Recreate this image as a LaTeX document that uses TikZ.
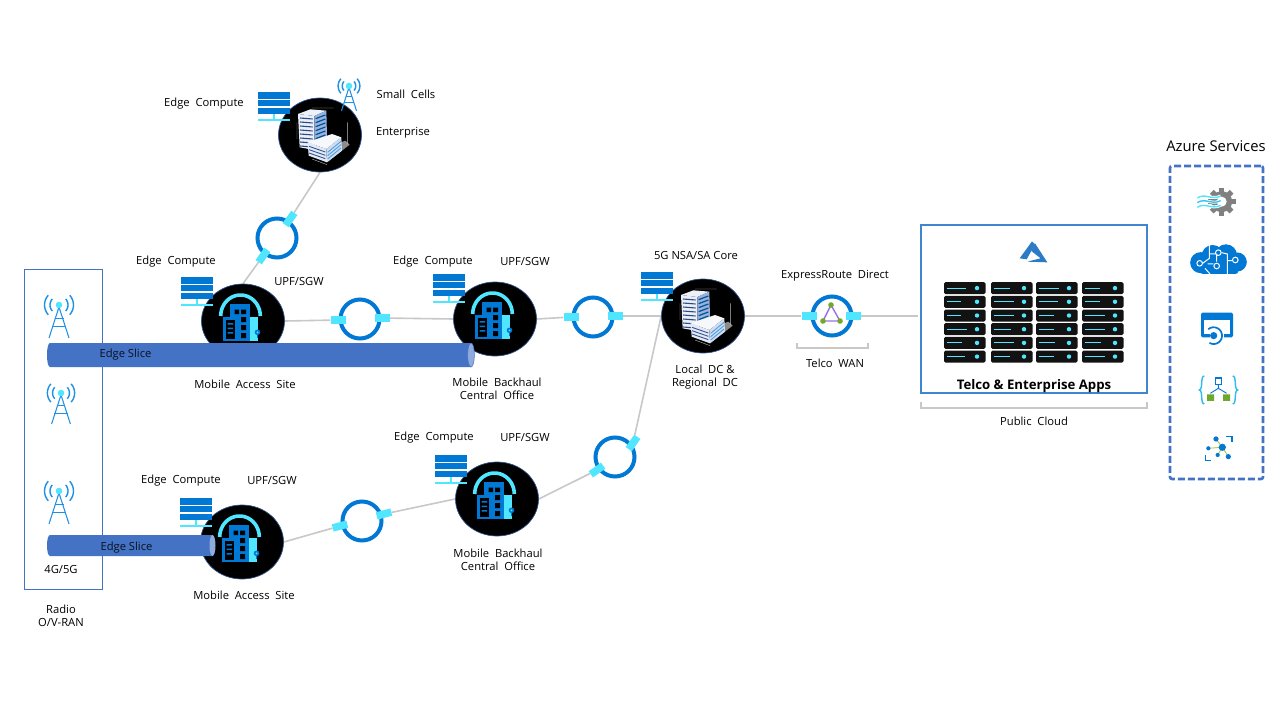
\documentclass[tikz,border=0pt]{standalone}
\usepackage{fontspec}
\setmainfont{Open Sans}
\usetikzlibrary{shapes.geometric,backgrounds}
\definecolor{cy}{HTML}{50E6FF}
\definecolor{az}{HTML}{0078D4}
\definecolor{sl}{HTML}{4472C4}
\definecolor{gl}{HTML}{C8C8C8}
\definecolor{bx}{HTML}{3F86CE}
\definecolor{tw}{HTML}{1E90E6}
\definecolor{pu}{HTML}{9B6FE8}
\definecolor{gr}{HTML}{6FA82C}
\definecolor{logo}{HTML}{2B7CC4}
\tikzset{
  lbl/.style={font=\fontsize{11.2}{13}\selectfont,text=black,inner sep=0pt,align=center,yshift=-1.2pt},
  site/.style={ellipse,fill=black,draw=sl!70!black,line width=.7pt,minimum width=83pt,minimum height=74pt,inner sep=0pt},
  ringn/.style={circle,draw=az,line width=4pt,fill=white,minimum size=39pt,inner sep=0pt},
  tabn/.style={rectangle,fill=cy,minimum width=15pt,minimum height=7.5pt,inner sep=0pt},
  conn/.style={draw=gl,line width=1.6pt},
  brk/.style={draw=gl,line width=1.6pt}
}
\newcommand\ringat[9]{%
  \node[ringn] (#1) at (#2,#3) {};
  \node[tabn,rotate=#6] (#1a) at (#4,#5) {};
  \node[tabn,rotate=#9] (#1b) at (#7,#8) {};
}
\newcommand\serverstack[2]{%
  \begin{scope}[shift={(#1,#2)}]
    \fill[az] (0,0) rectangle (32,6.6);
    \fill[az] (0,8) rectangle (32,14.2);
    \fill[az] (0,15.8) rectangle (32,22);
    \fill[cy] (15.4,22) rectangle (16.6,28);
    \fill[cy] (0,27.4) rectangle (32,29);
  \end{scope}}
\newcommand\towericon[3]{%
  \begin{scope}[shift={(#1,#2)},x=#3pt,y=-#3pt]
    \draw[tw,line width=1.05pt] (-10,33) -- (0,2) -- (10,33);
    \draw[tw,line width=1.05pt] (-4.5,13.5) -- (4.5,13.5) (-7,21.5) -- (7,21.5);
    \foreach \r/\w in {9/1.4,14.5/1.4}{
      \draw[tw,line width=\w pt] plot[domain=-42:42,samples=9] ({\r*cos(\x)},{\r*sin(\x)});
      \draw[tw,line width=\w pt] plot[domain=138:222,samples=9] ({\r*cos(\x)},{\r*sin(\x)});
    }
    \fill[cy] (0,0) circle[radius=3.3pt];
  \end{scope}}
\newcommand\officeicon[2]{%
  \begin{scope}[shift={(#1,#2)}]
    \draw[cy,line width=3.6pt] plot[domain=180:360,samples=24] ({-2.5+19.8*cos(\x)},{-5+21*sin(\x)});
    \fill[az] (-13,-17) rectangle (7,20);
    \fill[az] (-20,-4) rectangle (-1,20);
    \fill[black] (-17.5,-1) rectangle (-8,18);
    \fill[az] (-15.5,2) rectangle (-10,3.6) (-15.5,6.5) rectangle (-10,8.1) (-15.5,11) rectangle (-10,12.6);
    \fill[black] (-8.5,-11.5) rectangle (-4,-7) (-2,-11.5) rectangle (3,-7) (-2,-4) rectangle (3,1) (-2,4) rectangle (3,9) (-2,12) rectangle (3,17);
    \fill[cy] (7,-4) rectangle (15,20);
    \fill[az] (14.5,11.3) circle[radius=2.8pt];
    \fill[cy] (14.5,11.3) circle[radius=1pt];
    \fill[az] (13.8,13) rectangle (15.2,17);
  \end{scope}}
% large office block, drawn in 3x units round its circle centre
\newcommand\bigoffice[2]{%
  \begin{scope}[shift={(#1-43,#2-41)},x=.3333pt,y=-.3333pt]
    \fill[white!55!black] (150,205) -- (195,170) -- (218,152) -- (205,140) -- (180,150) -- cycle;
    \fill[white!90!sl] (63,60) -- (100,46) -- (148,50) -- (112,66) -- cycle;
    \fill[white!88!sl] (63,60) -- (112,66) -- (112,168) -- (68,160) -- cycle;
    \fill[sl!55!white] (112,66) -- (148,50) -- (150,128) -- (112,150) -- cycle;
    \foreach \y in {72,84,...,156}{
      \draw[sl!65!black,line width=1.1pt] (69,\y) -- (107,\y+3);
    }
    \foreach \y in {74,86,...,134}{
      \draw[az!70!black,line width=1.2pt] (116,\y) -- (145,\y-11);
    }
    \fill[white!95!sl] (92,145) -- (165,120) -- (193,130) -- (148,165) -- cycle;
    \fill[white!85!sl] (92,145) -- (148,165) -- (150,205) -- (95,185) -- cycle;
    \fill[white!75!sl] (148,165) -- (193,130) -- (195,170) -- (150,205) -- cycle;
    \foreach \y in {157,167,177}{\draw[sl!75!black,line width=.9pt] (96,\y) -- (145,\y+17);}
    \foreach \y in {175,185,195}{\draw[az!70!white,line width=.9pt] (152,\y) -- (192,\y-33);}
    \draw[white!75!black,line width=.4pt] (212,85) -- (212,150) (60,85) -- (60,135) (105,195) -- (150,212) (105,42) -- (170,42);
  \end{scope}}
\begin{document}
\begin{tikzpicture}[x=1pt,y=-1pt]
\useasboundingbox (0,0) rectangle (1280,720);
\node[site] (ent) at (320,135) {};
\node[site] (siteA) at (243,321) {};
\node[site] (bhA) at (495,319) {};
\node[site] (core) at (703,316) {};
\node[site] (bhB) at (497,499) {};
\node[site] (siteB) at (242,542) {};
\officeicon{243}{321}
\officeicon{495}{319}
\officeicon{497}{499}
\officeicon{242}{542}
\bigoffice{320}{135}
\bigoffice{703}{316}
\serverstack{258}{92}
\serverstack{181}{277}
\serverstack{433}{274}
\serverstack{641}{272}
\serverstack{435}{455}
\serverstack{180}{498}
\ringat{rA}{277}{238}{263}{256}{55}{290}{219}{55}
\ringat{rB}{360}{319}{338}{320}{0}{382}{318}{0}
\ringat{rC}{593}{317}{571}{317}{0}{615}{316}{0}
\ringat{rD}{362}{521}{340}{526}{15}{384}{514}{15}
\ringat{rE}{615}{457}{597}{470}{35}{633}{443}{55}
\ringat{rF}{832}{316}{809}{316}{0}{853}{316}{0}
\draw[pu,line width=1.4pt] (831,305) -- (823,321) -- (840,321) -- cycle;
\fill[gr] (831,305) circle[radius=2.8pt] (823,321) circle[radius=2.8pt] (840,321) circle[radius=2.8pt];
\node[draw=bx,fill=white,line width=2pt,minimum width=226pt,minimum height=168pt,inner sep=0pt] (cloud) at (1033.5,308.5) {};
\coordinate (cloudin) at (918,316);
\node[lbl,font=\fontsize{13.2}{15}\selectfont\bfseries] (apps) at (1034,384.5) {Telco \& Enterprise Apps};
\begin{scope}[shift={(910,215)},x=.3333pt,y=-.3333pt]
  \fill[logo] (366,79) -- (329,130) -- (350,133) -- (375,88) -- cycle;
  \fill[logo] (375,85) -- (412,142) -- (352,140) -- (392,130) -- (364,108) -- cycle;
\end{scope}
\foreach \cx/\lens [count=\c] in {944/{19,14,14,20,15,18},991/{16,20,20,17,20,16},1036/{20,19,15,15,16,15},1082/{15,15,20,20,16,20}}{
  \foreach \l [count=\r] in \lens {
    \pgfmathsetmacro\yy{268.4+13.7*\r}
    \fill[black!93,rounded corners=1.5pt] (\cx,\yy) rectangle ++(41.5,12);
    \draw[cy,line width=1.1pt] (\cx+2.5,\yy+6) -- ++(\l,0);
    \fill[cy] (\cx+33,\yy+6) circle[radius=2.2pt];
  }
}
\node[draw=sl,line width=.9pt,minimum width=78pt,minimum height=320pt,inner sep=0pt] (radio) at (63,429) {};
\towericon{59}{305}{1}
\towericon{61}{393}{.94}
\towericon{59}{491}{1}
\towericon{349}{86}{.75}
\fill[sl] (50,343) -- (471,343) -- (471,367) -- (50,367) .. controls (46,367) and (46,343) .. (50,343) -- cycle;
\fill[sl!60!white] (471,355) ellipse[x radius=3.4pt,y radius=12pt];
\draw[sl,line width=.5pt] (471,355) ellipse[x radius=3.4pt,y radius=12pt];
\fill[sl] (50,535) -- (212,535) -- (212,556) -- (50,556) .. controls (46,556) and (46,535) .. (50,535) -- cycle;
\fill[sl!60!white] (212.5,545.5) ellipse[x radius=3pt,y radius=10.5pt];
\begin{scope}[on background layer]
  \fill[white] (0,0) rectangle (1280,720);
  \draw[conn] (ent.south) -- (rAb);
  \draw[conn] (rAa) -- (siteA.north);
  \draw[conn] (siteA.east) -- (rBa);
  \draw[conn] (rBb) -- (bhA.west);
  \draw[conn] (bhA.east) -- (rCa);
  \draw[conn] (rCb) -- (core.west);
  \draw[conn] (core.east) -- (rFa);
  \draw[conn] (rFb) -- (cloudin);
  \draw[conn] (siteB.east) -- (rDa);
  \draw[conn] (rDb) -- (bhB.west);
  \draw[conn] (bhB.east) -- (rEa);
  \draw[conn] (rEb) -- (core.west);
\end{scope}
\draw[brk] (797,343) -- (797,348) -- (868,348) -- (868,343);
\draw[brk] (921,402) -- (921,408) -- (1147,408) -- (1147,402);
\node[lbl] (l1) at (204,102) {Edge~~Compute};
\node[lbl] (l2) at (406,93) {Small~~Cells};
\node[lbl] (l3) at (403,132) {Enterprise};
\node[lbl] (l4) at (176,260) {Edge~~Compute};
\node[lbl] (l5) at (299,280) {UPF/SGW};
\node[lbl] (l6) at (433,260) {Edge~~Compute};
\node[lbl] (l7) at (525,260) {UPF/SGW};
\node[lbl] (l8) at (696,254) {5G~NSA/SA~Core};
\node[lbl] (l9) at (835,275) {ExpressRoute~~Direct};
\node[lbl] (l10) at (245,383) {Mobile~~Access~~Site};
\node[lbl] (l11) at (497,387.5) {Mobile~~Backhaul\\Central~~Office};
\node[lbl] (l12) at (705,375.5) {Local~~DC~\&\\Regional~~DC};
\node[lbl] (l13) at (835,362) {Telco~~WAN};
\node[lbl] (l14) at (434,436) {Edge~~Compute};
\node[lbl] (l15) at (525,436) {UPF/SGW};
\node[lbl] (l16) at (498,558.5) {Mobile~~Backhaul\\Central~~Office};
\node[lbl] (l17) at (181,479) {Edge~~Compute};
\node[lbl] (l18) at (272,479) {UPF/SGW};
\node[lbl] (l19) at (244,594) {Mobile~~Access~~Site};
\node[lbl] (l20) at (61,568) {4G/5G};
\node[lbl] (l21) at (61,614.5) {Radio\\O/V-RAN};
\node[lbl] (l22) at (1034,420) {Public~~Cloud};
\node[lbl,text=black!85!sl] (s1) at (125.5,353) {Edge Slice};
\node[lbl,text=black!85!sl] (s2) at (126.5,546) {Edge Slice};
\node[lbl,font=\fontsize{14.8}{16}\selectfont] (azs) at (1216,145) {Azure Services};
\node[draw=sl,line width=2.6pt,dash pattern=on 7pt off 3pt,rounded corners=2pt,minimum width=93pt,minimum height=313pt,inner sep=0pt] (svc) at (1216.5,322.5) {};
\begin{scope}[shift={(1150,130)},x=.3333pt,y=-.3333pt]
  \foreach \a in {0,45,...,315}{
    \fill[black!50,rotate around={\a:(215,215)}] (207,173) rectangle (223,200);
  }
  \fill[black!50] (215,215) circle[radius=10.5pt];
  \fill[white] (215,215) circle[radius=5pt];
  \foreach \yy/\c in {198/cy,212/cy!70!az,226/cy}{
    \draw[white,line width=3pt] (142,\yy+6) .. controls (165,\yy-10) and (185,\yy+14) .. (212,\yy);
    \draw[\c,line width=1.4pt] (142,\yy+6) .. controls (165,\yy-10) and (185,\yy+14) .. (212,\yy);
  }
  \fill[az] (152,398) circle[radius=10.5pt] (188,378) circle[radius=11pt] (228,376) circle[radius=11pt] (262,396) circle[radius=9.5pt];
  \fill[az,rounded corners=3pt] (150,380) rectangle (265,432);
  \draw[white,line width=1pt] (178,345) -- (178,385) -- (158,400) (173,402) -- (190,402) (232,435) -- (232,372) -- (215,368) (200,395) -- (200,372) -- (180,372) (232,392) -- (247,392) (180,432) -- (165,415);
  \fill[az] (205,368) circle[radius=2.8pt] (200,408) circle[radius=2.8pt] (149,400) circle[radius=2.8pt] (256,390) circle[radius=2.8pt];
  \draw[white,line width=1pt] (205,368) circle[radius=2.8pt] (200,408) circle[radius=2.8pt] (149,400) circle[radius=2.8pt] (256,390) circle[radius=2.8pt];
  \fill[az,rounded corners=1.5pt] (153,548) rectangle (249,622);
  \fill[white] (163,570) rectangle (239,612);
  \fill[white] (180,604) rectangle (222,650);
  \fill[az] (191,617) circle[radius=3.6pt];
  \draw[az,line width=1.7pt] plot[domain=-130:120,samples=16] ({191+8.4*3*cos(\x)},{617+8.4*3*sin(\x)});
  \draw[cy!60!az,line width=1.4pt] (163,738) .. controls (150,738) and (160,778) .. (148,780) .. controls (160,782) and (150,822) .. (163,822);
  \draw[cy!60!az,line width=1.4pt] (248,738) .. controls (261,738) and (251,778) .. (263,780) .. controls (251,782) and (261,822) .. (248,822);
  \draw[az,line width=.9pt] (205,765) -- (205,775) -- (181,790) (205,775) -- (230,790);
  \draw[az,line width=1.2pt] (196,744) rectangle (214,763);
  \fill[gr] (171,793) rectangle (192,813) (219,793) rectangle (240,813);
  \draw[yellow!70!green!85!black,line width=.8pt] (217,952) -- (198,927) (217,952) -- (175,955) (217,952) -- (203,975) (217,952) -- (235,980);
  \fill[az] (217,952) circle[radius=3.6pt] (198,927) circle[radius=2.6pt] (175,955) circle[radius=2.1pt] (203,975) circle[radius=2.1pt] (235,980) circle[radius=2.6pt];
  \draw[az,line width=1.4pt] (228,919) -- (246,919) -- (246,937);
  \draw[az,line width=1.4pt] (166,975) -- (166,992) -- (184,992);
\end{scope}
\end{tikzpicture}
\end{document}
